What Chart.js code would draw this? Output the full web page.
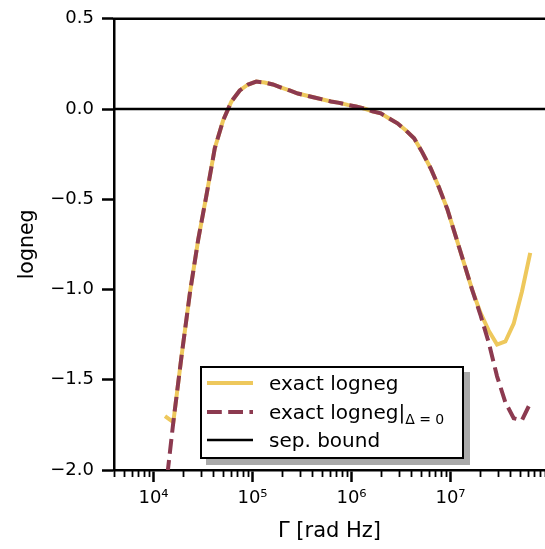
<!DOCTYPE html>
<html>
<head>
<meta charset="utf-8">
<script src="https://cdn.jsdelivr.net/npm/chart.js@4/dist/chart.umd.min.js"></script>
<style>
  html, body { margin: 0; padding: 0; background: #fff; }
  #wrap { position: relative; width: 545px; height: 549px; overflow: hidden; }
  #holder { position: absolute; left: 0; top: 0; width: 700px; height: 549px; }
  #legend {
    position: absolute; left: 200px; top: 366px; width: 260px; height: 89px;
    border: 2px solid #000; background: #fff; box-shadow: 6px 6px 0 #aaaaaa;
    font-family: 'DejaVu Sans', sans-serif; font-size: 20px; color: #000;
  }
  .row { position: absolute; left: 0; height: 28px; width: 260px; }
  .row svg { position: absolute; left: 5px; top: 0; }
  .row span { position: absolute; left: 67px; top: 0; line-height: 28px; white-space: nowrap; }
  .row sub { font-size: 14px; vertical-align: -5px; line-height: 0; }
</style>
</head>
<body>
<div id="wrap">
  <div id="holder"><canvas id="c" width="545" height="549"></canvas></div>
  <div id="legend"></div>
</div>
<script>
// Γ sample points [rad Hz]
const gammaRadHz = [
  1.306e4, 1.585e4, 1.923e4, 2.333e4, 2.825e4, 3.428e4, 4.159e4, 5.047e4, 6.124e4, 7.430e4,
  9.016e4, 1.091e5, 1.324e5, 1.607e5, 1.950e5, 2.366e5, 2.871e5, 3.483e5, 4.217e5, 5.117e5,
  6.209e5, 7.534e5, 9.141e5, 1.109e6, 1.343e6, 1.629e6, 1.977e6, 2.399e6, 2.911e6, 3.532e6,
  4.285e6, 5.188e6, 6.295e6, 7.638e6, 9.268e6, 1.125e7, 1.365e7, 1.652e7, 2.004e7, 2.432e7,
  2.951e7, 3.581e7, 4.345e7, 5.260e7, 6.383e7
];

// exact logarithmic negativity
const lognegExact = [
  -1.702, -1.735, -1.365, -1.018, -0.725, -0.477, -0.217, -0.063, 0.042, 0.103,
  0.136, 0.152, 0.147, 0.136, 0.119, 0.103, 0.086, 0.075, 0.064, 0.053,
  0.042, 0.034, 0.023, 0.014, 0.003, -0.013, -0.024, -0.052, -0.079, -0.118,
  -0.162, -0.240, -0.328, -0.433, -0.554, -0.703, -0.852, -1.001, -1.128, -1.228,
  -1.305, -1.288, -1.189, -1.012, -0.797
];

// exact logarithmic negativity at zero detuning
const lognegDelta0 = [
  -2.143, -1.735, -1.365, -1.018, -0.725, -0.477, -0.217, -0.063, 0.042, 0.103,
  0.136, 0.152, 0.147, 0.136, 0.119, 0.103, 0.086, 0.075, 0.064, 0.053,
  0.042, 0.034, 0.023, 0.014, 0.003, -0.013, -0.024, -0.052, -0.079, -0.118,
  -0.162, -0.240, -0.328, -0.433, -0.554, -0.703, -0.852, -1.001, -1.140, -1.294,
  -1.481, -1.625, -1.713, -1.724, -1.630
];

// separability bound
const sepBound = 0;

// axis ranges and ticks
const xLimits = [3990, 9.0e7];
const yLimits = [-2.0, 0.5];
const xMajorTicks = [1e4, 1e5, 1e6, 1e7];
const xMajorLabels = ['10\u2074', '10\u2075', '10\u2076', '10\u2077'];
const yTicks = [-2.0, -1.5, -1.0, -0.5, 0.0, 0.5];
const yTickLabels = ['\u22122.0', '\u22121.5', '\u22121.0', '\u22120.5', '0.0', '0.5'];

const seriesLabels = ['exact logneg', 'exact logneg|\u0394 = 0', 'sep. bound'];
const seriesLegendHtml = ['exact logneg', 'exact logneg|<sub>\u0394 = 0</sub>', 'sep. bound'];

const YELLOW = '#eec85c';
const MAROON = '#8c3a50';
const FONT = "'DejaVu Sans', sans-serif";
const PLOT_RIGHT = 545;   // right edge of the plotting area on the page

const isPow10 = v => Math.abs(Math.log10(v) - Math.round(Math.log10(v))) < 1e-9;

// log-axis ticks: every integer multiple of a power of ten inside the range
function logTicks(min, max) {
  const out = [];
  for (let e = Math.floor(Math.log10(min)); e <= Math.ceil(Math.log10(max)); e++) {
    for (let m = 1; m <= 9; m++) {
      const v = m * Math.pow(10, e);
      if (v >= min * 0.999 && v <= max * 1.001) out.push({ value: v, major: isPow10(v) });
    }
  }
  return out;
}

// top spine and short minor ticks on the Γ axis
const axisExtras = {
  id: 'axisExtras',
  afterDraw(chart) {
    const { ctx, chartArea: { left, right, top, bottom }, scales: { x } } = chart;
    ctx.save();
    ctx.strokeStyle = '#000';
    ctx.lineWidth = 2.5;
    ctx.beginPath();
    ctx.moveTo(left - 1.25, top);
    ctx.lineTo(right, top);
    ctx.stroke();
    ctx.lineWidth = 1.8;
    x.ticks.forEach(t => {
      if (isPow10(t.value)) return;
      const px = Math.round(x.getPixelForValue(t.value)) + 0.5;
      ctx.beginPath();
      ctx.moveTo(px, bottom);
      ctx.lineTo(px, bottom + 7);
      ctx.stroke();
    });
    ctx.restore();
  }
};

const lineBase = { pointRadius: 0, pointHoverRadius: 0, tension: 0, fill: false, clip: 0 };

const canvas = document.getElementById('c');
const chart = new Chart(canvas, {
  type: 'line',
  data: {
    datasets: [
      Object.assign({
        label: seriesLabels[0],
        data: gammaRadHz.map((g, i) => ({ x: g, y: lognegExact[i] })),
        borderColor: YELLOW, borderWidth: 4, order: 3
      }, lineBase),
      Object.assign({
        label: seriesLabels[1],
        data: gammaRadHz.map((g, i) => ({ x: g, y: lognegDelta0[i] })),
        borderColor: MAROON, borderWidth: 4, borderDash: [14.8, 6.4], borderCapStyle: 'butt', order: 2
      }, lineBase),
      Object.assign({
        label: seriesLabels[2],
        data: xLimits.map(x => ({ x, y: sepBound })),
        borderColor: '#000', borderWidth: 2.5, order: 1
      }, lineBase)
    ]
  },
  options: {
    responsive: false,
    maintainAspectRatio: false,
    animation: false,
    devicePixelRatio: 1,
    layout: { padding: { top: 17, right: 0, bottom: 0, left: 0 } },
    plugins: { legend: { display: false }, tooltip: { enabled: false } },
    scales: {
      x: {
        type: 'logarithmic',
        min: xLimits[0], max: xLimits[1],
        afterBuildTicks: s => { s.ticks = logTicks(xLimits[0], xLimits[1]); },
        afterFit: s => { s.height = 79; },
        grid: {
          drawOnChartArea: false, drawTicks: true, tickLength: 12, tickWidth: 2.5,
          tickColor: c => (c.tick && isPow10(c.tick.value)) ? '#000' : 'rgba(0,0,0,0)'
        },
        border: { display: true, color: '#000', width: 2.5 },
        ticks: {
          autoSkip: false, maxRotation: 0, minRotation: 0, padding: 6,
          color: '#000', font: { family: FONT, size: 18 },
          callback: v => {
            const k = xMajorTicks.findIndex(t => Math.abs(t - v) / t < 1e-9);
            return k >= 0 ? xMajorLabels[k] : '';
          }
        },
        title: {
          display: true, text: '\u0393 [rad Hz]', color: '#000',
          font: { family: FONT, size: 21 }, padding: { top: 5, bottom: 5 }
        }
      },
      y: {
        type: 'linear',
        min: yLimits[0], max: yLimits[1],
        afterBuildTicks: s => { s.ticks = yTicks.map(v => ({ value: v })); },
        afterFit: s => { s.width = 114; },
        grid: { drawOnChartArea: false, drawTicks: true, tickLength: 12, tickWidth: 2.5, tickColor: '#000' },
        border: { display: true, color: '#000', width: 2.5 },
        ticks: {
          padding: 8, color: '#000', font: { family: FONT, size: 18 },
          callback: v => {
            const k = yTicks.findIndex(t => Math.abs(t - v) < 1e-9);
            return k >= 0 ? yTickLabels[k] : '';
          }
        },
        title: {
          display: true, text: 'logneg', color: '#000',
          font: { family: FONT, size: 20.5 }, padding: { top: 15, bottom: 15 }
        }
      }
    }
  },
  plugins: [axisExtras]
});

// widen the canvas so that the plotting area ends exactly at the page edge
const extra = Math.round(PLOT_RIGHT - chart.chartArea.right);
if (extra !== 0) {
  chart.resize(545 + extra, 549);
}

// legend box
const legendStyles = [
  { color: YELLOW, width: 4, dash: '' },
  { color: MAROON, width: 4, dash: '14.8 6.4' },
  { color: '#000', width: 2.5, dash: '' }
];
const rowCenters = [15, 44, 72];
const legend = document.getElementById('legend');
seriesLegendHtml.forEach((html, i) => {
  const st = legendStyles[i];
  const row = document.createElement('div');
  row.className = 'row';
  row.style.top = (rowCenters[i] - 14) + 'px';
  row.innerHTML =
    '<svg width="46" height="28"><line x1="0" y1="14" x2="46" y2="14" stroke="' + st.color +
    '" stroke-width="' + st.width + '"' + (st.dash ? ' stroke-dasharray="' + st.dash + '"' : '') +
    '/></svg><span>' + html + '</span>';
  legend.appendChild(row);
});
</script>
</body>
</html>
